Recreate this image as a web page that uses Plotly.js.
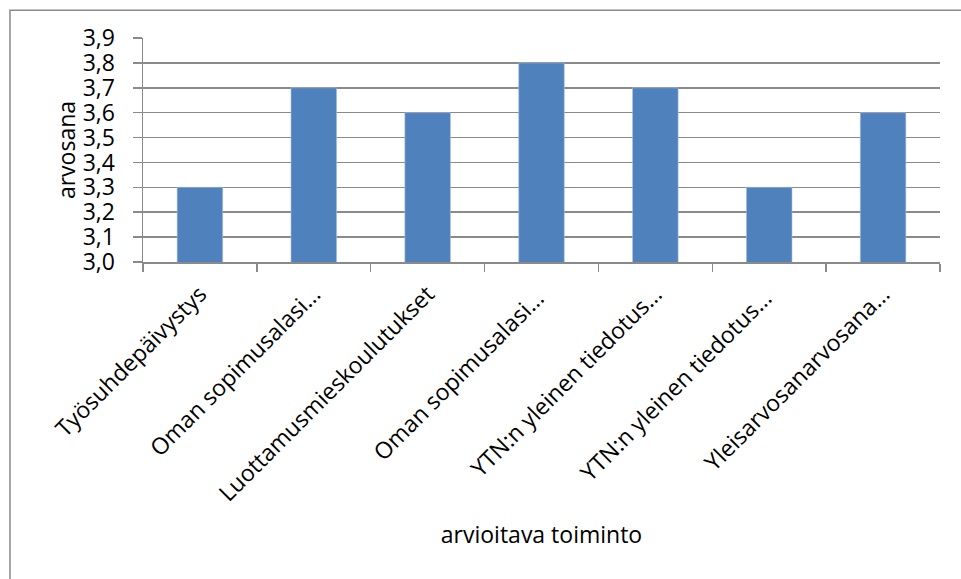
<!DOCTYPE html>
<html>
<head>
<meta charset="utf-8">
<script src="https://cdn.plot.ly/plotly-3.0.1.min.js"></script>
<style>
  html, body { margin: 0; padding: 0; background: #ffffff; }
  #chart { width: 961px; height: 579px; }
</style>
</head>
<body>
<div id="chart"></div>
<script>
// Arvioitavat toiminnot ja niiden keskiarvosanat
const categories = [
  "Työsuhdepäivystys",
  "Oman sopimusalasi…",
  "Luottamusmieskoulutukset",
  "Oman sopimusalasi… ",
  "YTN:n yleinen tiedotus…",
  "YTN:n yleinen tiedotus… ",
  "Yleisarvosanarvosana…"
];
const grades = [3.3, 3.7, 3.6, 3.8, 3.7, 3.3, 3.6];
const yTicks = [3.0, 3.1, 3.2, 3.3, 3.4, 3.5, 3.6, 3.7, 3.8, 3.9];

const gridGrey = "#8a8a8a";
const font = "Open Sans, Noto Sans, sans-serif";

const trace = {
  type: "bar",
  x: categories,
  y: grades,
  marker: { color: "#4f81bd", line: { color: "#a9c0de", width: 0.6 } },
  hoverinfo: "x+y"
};

const layout = {
  width: 961,
  height: 579,
  paper_bgcolor: "#ffffff",
  plot_bgcolor: "#ffffff",
  separators: ", ",
  showlegend: false,
  bargap: 0.6,
  margin: { l: 143, r: 21, t: 38, b: 317 },
  font: { family: font, color: "#000000" },
  xaxis: {
    type: "category",
    tickangle: -45,
    tickfont: { size: 23, family: font },
    ticks: "outside",
    tickson: "boundaries",
    ticklen: 8,
    tickwidth: 1.5,
    tickcolor: gridGrey,
    ticklabelstandoff: 8,
    showline: true,
    linecolor: gridGrey,
    linewidth: 1.5,
    showgrid: false,
    automargin: false,
    title: { text: "arvioitava toiminto", font: { size: 23, family: font }, standoff: 20 }
  },
  yaxis: {
    range: [3.0, 3.9],
    tickvals: yTicks,
    tickformat: ".1f",
    tickfont: { size: 23, family: font },
    ticks: "outside",
    ticklen: 9,
    tickwidth: 1.5,
    tickcolor: gridGrey,
    ticklabelstandoff: 13,
    showline: true,
    linecolor: gridGrey,
    linewidth: 1.5,
    showgrid: true,
    gridcolor: gridGrey,
    gridwidth: 1.5,
    zeroline: false,
    automargin: false,
    title: { text: "arvosana", font: { size: 23, family: font }, standoff: 0 }
  },
  shapes: [
    // chart frame (left and top edges visible)
    {
      type: "rect", xref: "paper", yref: "paper",
      x0: -0.1669, x1: 1.1, y0: -1.6, y1: 1.1244,
      line: { color: gridGrey, width: 1.5 },
      fillcolor: "rgba(0,0,0,0)",
      layer: "below"
    }
  ]
};

Plotly.newPlot("chart", [trace], layout, { displayModeBar: false, staticPlot: true });
</script>
</body>
</html>
